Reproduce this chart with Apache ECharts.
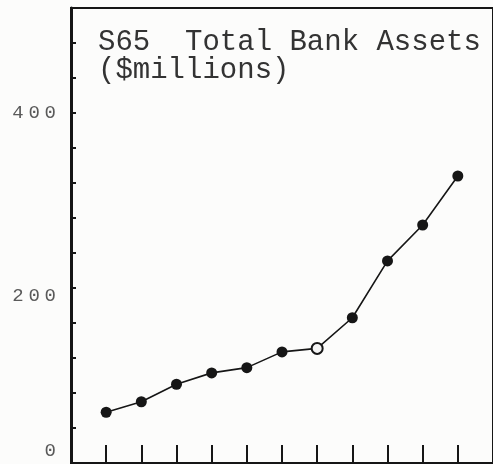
<!DOCTYPE html>
<html>
<head>
<meta charset="utf-8">
<script src="https://cdn.jsdelivr.net/npm/echarts@6/dist/echarts.min.js"></script>
<style>
  html, body { margin: 0; padding: 0; background: #fcfcfb; }
  #chart { width: 493px; height: 464px; }
</style>
</head>
<body>
<div id="chart"></div>
<script>
// periods along the x axis (unlabelled ticks)
const periods = [1, 2, 3, 4, 5, 6, 7, 8, 9, 10, 11];
// total bank assets, $ millions
const assets = [58, 70, 90, 103, 109, 127, 131, 166, 231, 272, 328];
// y labels that are printed
const yLabels = [0, 200, 400];

const chart = echarts.init(document.getElementById("chart"));

const ink = "#161616";
const seriesData = periods.map((p, i) => {
  const item = { value: [p, assets[i]] };
  // the 7th dot is printed hollow
  if (i === 6) {
    item.itemStyle = { color: "#f4f4f4", borderColor: ink, borderWidth: 2 };
  }
  return item;
});

const digitStyle = { fontFamily: "Liberation Mono", fontSize: 19, color: "#5a5a5a" };

chart.setOption({
  backgroundColor: "#fcfcfb",
  animation: false,
  title: {
    text: "S65  Total Bank Assets\n($millions)",
    left: 98,
    top: 28,
    padding: 0,
    textStyle: {
      fontFamily: "Liberation Mono",
      fontSize: 29,
      fontWeight: "normal",
      lineHeight: 28,
      color: "#333",
    },
  },
  grid: {
    left: 71,
    right: -4,
    top: 8,
    bottom: 1,
    show: true,
    borderColor: ink,
    borderWidth: 2,
  },
  xAxis: {
    type: "value",
    min: 0,
    max: 12,
    interval: 1,
    axisLine: { lineStyle: { color: ink, width: 2 } },
    axisTick: { inside: true, length: 18, lineStyle: { color: ink, width: 2 } },
    axisLabel: { show: false },
    splitLine: { show: false },
  },
  yAxis: {
    type: "value",
    min: 0,
    max: 520,
    interval: 40,
    axisLine: { show: true, lineStyle: { color: ink, width: 3 } },
    axisTick: { inside: true, length: 5, lineStyle: { color: ink, width: 2 } },
    splitLine: { show: false },
    axisLabel: {
      margin: 15,
      formatter: (v) => {
        if (!yLabels.includes(v)) return "";
        if (v === 0) return "{z|0}";
        const tag = v === 200 ? "e" : "d";
        return String(v).split("").map((c) => "{" + tag + "|" + c + "}").join("{s| }");
      },
      rich: {
        d: digitStyle,
        e: Object.assign({}, digitStyle, { padding: [16, 0, 0, 0] }),
        z: Object.assign({}, digitStyle, { padding: [0, 0, 24, 0] }),
        s: { fontFamily: "Liberation Mono", fontSize: 8 },
      },
    },
  },
  series: [
    {
      type: "line",
      data: seriesData,
      symbol: "circle",
      symbolSize: 11,
      lineStyle: { color: ink, width: 1.6 },
      itemStyle: { color: ink },
    },
  ],
});
</script>
</body>
</html>
